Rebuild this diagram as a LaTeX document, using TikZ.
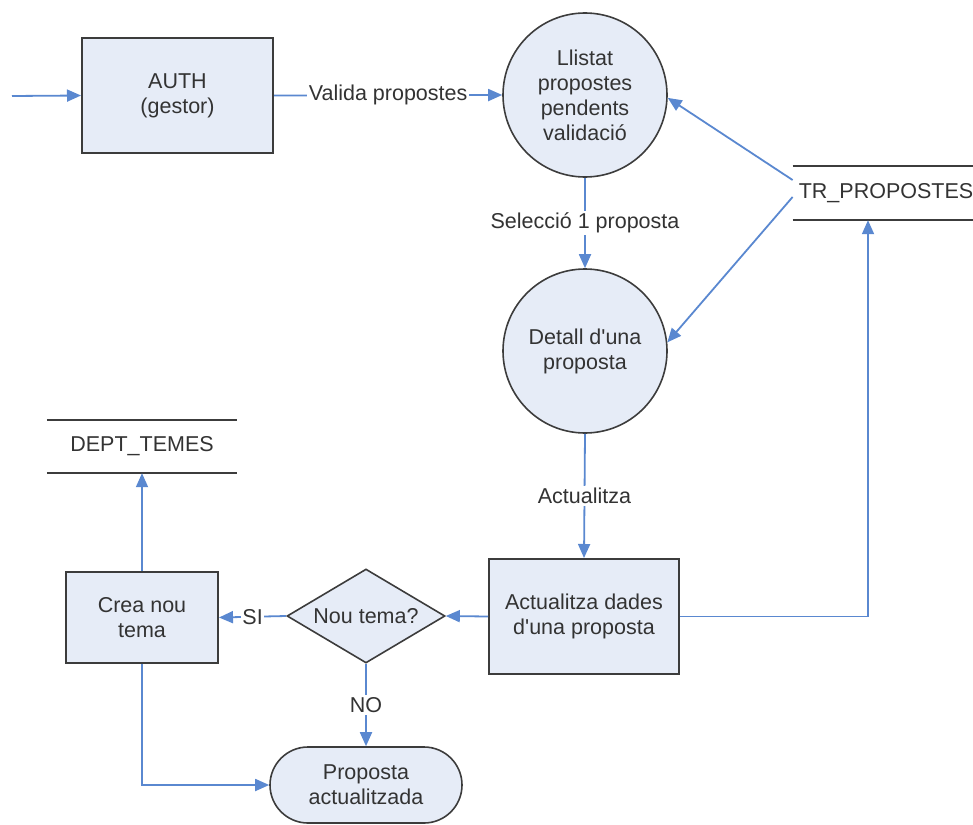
\documentclass[tikz,border=0pt]{standalone}
\usepackage{fontspec}
\setmainfont{Liberation Sans}
\usetikzlibrary{arrows.meta,shapes.geometric,shapes.misc}
\definecolor{flow}{HTML}{5A88D0}
\definecolor{boxfill}{HTML}{E6ECF7}
\definecolor{edge}{HTML}{3C3C3C}
\definecolor{ink}{HTML}{333333}
\begin{document}
\begin{tikzpicture}[x=1pt,y=-1pt,
  every node/.style={font=\fontsize{21.5}{25}\selectfont, text=ink, align=center},
  proc/.style={draw=edge, line width=2pt, fill=boxfill, rectangle, inner sep=0pt},
  bubble/.style={draw=edge, line width=1.6pt, fill=boxfill, circle, minimum size=164pt, inner sep=0pt},
  decide/.style={draw=edge, line width=1.6pt, fill=boxfill, diamond, inner sep=0pt, minimum width=158pt, minimum height=94pt},
  terminal/.style={draw=edge, line width=1.6pt, fill=boxfill, rounded rectangle, minimum width=192pt, minimum height=76pt, inner sep=0pt},
  store/.style={inner sep=0pt},
  storeline/.style={draw=edge, line width=2pt},
  flowarrow/.style={draw=flow, line width=1.8pt, -{Triangle[length=14pt,width=12pt]}},
  lbl/.style={fill=white, inner sep=2pt}
]
\useasboundingbox (0,0) rectangle (973,824);

% processes and decisions
\node[proc, minimum width=191pt, minimum height=115pt] (auth) at (177.5,95.5) {AUTH\\(gestor)};
\node[bubble] (llistat) at (585,95) {Llistat\\propostes\\pendents\\validació};
\node[bubble] (detall) at (585,351) {Detall d\textquotesingle una\\proposta};
\node[proc, minimum width=190pt, minimum height=115pt] (upd) at (584,616.5) {Actualitza dades\\d\textquotesingle una proposta};
\node[decide] (nou) at (366,616) {\makebox[0pt]{Nou tema?}};
\node[proc, minimum width=152pt, minimum height=91pt] (crea) at (142,617.5) {Crea nou\\tema};
\node[terminal] (fi) at (366,785) {Proposta\\actualitzada};

% data stores
\node[store, minimum width=180pt, minimum height=54pt] (tr) at (883,193) {\hspace*{6pt}TR\_PROPOSTES};
\draw[storeline] (tr.north west) -- (tr.north east);
\draw[storeline] (tr.south west) -- (tr.south east);
\node[store, minimum width=190pt, minimum height=53pt] (dept) at (142,446.5) {\raisebox{3pt}{DEPT\_TEMES}};
\draw[storeline] (dept.north west) -- (dept.north east);
\draw[storeline] (dept.south west) -- (dept.south east);

% flows
\coordinate (in) at (12,96);
\draw[flowarrow] (in) -- (auth.west);
\draw[flowarrow] (auth.east) -- node[lbl] {Valida propostes} (llistat.west);
\draw[flowarrow] (llistat.south) -- node[lbl] {Selecció 1 proposta} (detall.north);
\draw[flowarrow] ([yshift=13pt]tr.west) -- (llistat.-2);
\draw[flowarrow] ([yshift=-4pt]tr.west) -- (detall.6);
\draw[flowarrow] (detall.south) -- node[lbl] {Actualitza} (upd.north);
\draw[flowarrow] (upd.east) -| ([xshift=-15pt]tr.south);
\draw[flowarrow] (upd.west) -- (nou.east);
\draw[flowarrow] (nou.west) -- node[lbl, inner sep=1pt] {SI} (crea.east);
\draw[flowarrow] (nou.south) -- node[lbl] {NO} (fi.north);
\draw[flowarrow] (crea.north) -- (dept.south);
\draw[flowarrow] (crea.south) |- (fi.west);
\end{tikzpicture}
\end{document}
